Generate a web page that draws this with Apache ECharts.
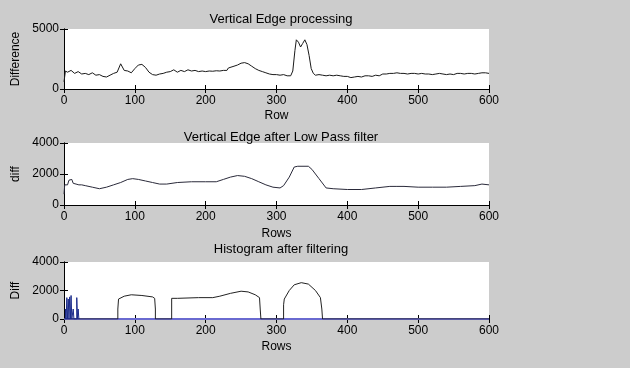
<!DOCTYPE html>
<html><head><meta charset="utf-8">
<script src="https://cdn.jsdelivr.net/npm/echarts@6/dist/echarts.min.js"></script>
<style>html,body{margin:0;padding:0;background:#cccccc}#c{width:630px;height:368px}</style>
</head><body><div id="c"></div>
<script>
// Panel 1: Vertical Edge processing
const rows1 = [0,2,5,10,15,20,25,30,35,40,45,50,55,60,65,70,75,80,85,90,95,100,105,110,115,120,125,130,135,140,145,150,155,160,165,170,175,180,185,190,195,200,205,210,215,220,225,230,232,240,245,250,255,260,265,270,275,280,285,290,295,300,305,310,315,320,323,326,328,331,334,337,340,343,346,349,352,355,360,365,370,375,380,385,390,395,400,405,410,415,420,425,430,435,440,445,450,455,460,465,470,475,480,485,490,495,500,505,510,515,520,525,530,535,540,545,550,555,560,565,570,575,580,585,590,595,600];
const diff1 = [600,1500,1400,1550,1300,1450,1250,1300,1200,1350,1150,1200,1050,1000,1150,1300,1400,2100,1550,1500,1350,1700,2000,2050,1800,1400,1200,1150,1250,1300,1400,1450,1600,1400,1550,1450,1600,1500,1550,1450,1500,1450,1500,1480,1520,1500,1550,1550,1750,1900,2000,2150,2200,2100,1900,1700,1550,1450,1350,1250,1200,1200,1150,1200,1100,1100,1500,3200,4100,3900,3500,3800,4100,3700,2800,1700,1300,1150,1200,1150,1100,1150,1100,1150,1100,1050,1050,950,1000,1050,1000,1100,1100,1050,1150,1100,1250,1250,1300,1300,1350,1300,1300,1250,1300,1300,1250,1300,1250,1250,1200,1250,1300,1250,1200,1250,1200,1300,1300,1250,1300,1300,1250,1300,1350,1350,1300];
// Panel 2: Vertical Edge after Low Pass filter
const rows2 = [0,1,3,5,7,9,11,13,15,17,19,21,25,30,40,50,60,70,80,90,97,105,115,125,135,145,160,180,200,215,225,235,245,255,265,275,285,295,305,310,318,325,330,345,350,360,370,380,400,420,440,460,470,480,500,520,540,560,580,590,600];
const diff2 = [700,1300,1400,1300,1600,1500,1650,1400,1450,1350,1450,1300,1300,1250,1150,1050,1150,1300,1450,1650,1700,1650,1550,1450,1350,1350,1450,1500,1500,1500,1650,1800,1900,1850,1700,1500,1300,1150,1100,1250,1800,2450,2500,2500,2300,1700,1100,1050,1000,1000,1100,1200,1200,1200,1150,1150,1150,1200,1250,1350,1300];
// Panel 3: Histogram after filtering
const rows3 = [0,76,76,77,85,95,110,125,128,129,129,152,152,160,190,210,220,235,250,260,270,276,277,278,310,310,311,318,325,335,345,355,362,364,365,600];
const diff3 = [0,0,700,1400,1600,1700,1650,1550,1450,700,0,0,1450,1450,1500,1500,1600,1800,1950,1900,1700,1500,700,0,0,1000,1400,2000,2400,2550,2450,2000,1500,700,0,0];
const spikeRows = [2,2,3,3,4,4,5,5,6,6,7,7,8,8,9,9,10,10,11,11,13,13,14,14,18,18,19,19,20,20,21,21];
const spikeVals = [0,700,700,0,0,1500,1500,0,0,1400,1400,0,0,1550,1550,0,0,1650,1650,0,0,700,700,0,0,1500,1500,0,0,700,700,0];

const pair = (xs, ys) => xs.map((x, i) => [x, ys[i]]);
const font = 'Liberation Sans, Arial, sans-serif';
const grids = [
  {left: 64, top: 29, width: 425, height: 60},
  {left: 64, top: 143, width: 425, height: 62},
  {left: 64, top: 262, width: 425, height: 57}
].map(g => Object.assign(g, {show: true, backgroundColor: '#ffffff', borderWidth: 0}));
const ax = {lineStyle: {color: '#000', width: 1}};
const tick = {show: true, inside: true, length: 4, lineStyle: {color: '#000'}};
const xAxes = [], yAxes = [];
const xNames = ['Row', 'Rows', 'Rows'];
const xGaps = [21, 23, 22];
const yNames = ['Difference', 'diff', 'Diff'];
const yMax = [5000, 4000, 4000];
const yInt = [5000, 2000, 2000];
for (let i = 0; i < 3; i++) {
  xAxes.push({type: 'value', gridIndex: i, min: 0, max: 600, interval: 100, position: 'bottom',
    axisLine: ax, axisTick: tick, splitLine: {show: false},
    axisLabel: {color: '#000', fontSize: 12, fontFamily: font, margin: 6},
    name: xNames[i], nameLocation: 'middle', nameGap: xGaps[i],
    nameTextStyle: {color: '#000', fontSize: 12, fontFamily: font}});
  xAxes.push({type: 'value', gridIndex: i, min: 0, max: 600, interval: 100, position: 'top',
    axisLine: ax, axisTick: tick, splitLine: {show: false}, axisLabel: {show: false}});
  yAxes.push({type: 'value', gridIndex: i, min: 0, max: yMax[i], interval: yInt[i], position: 'left',
    axisLine: {show: true, lineStyle: {color: '#000'}}, axisTick: tick, splitLine: {show: false},
    axisLabel: {color: '#000', fontSize: 12, fontFamily: font, margin: 5, formatter: v => String(v)},
    name: yNames[i], nameLocation: 'middle', nameGap: 37,
    nameTextStyle: {color: '#000', fontSize: 12, fontFamily: font}});
  yAxes.push({type: 'value', gridIndex: i, min: 0, max: yMax[i], interval: yInt[i], position: 'right',
    axisLine: {show: true, lineStyle: {color: '#000'}}, axisTick: tick, splitLine: {show: false}, axisLabel: {show: false}});
}
const ls = c => ({type: 'line', showSymbol: false, symbol: 'none', animation: false, lineStyle: {color: c, width: 1}, z: 3});
const chart = echarts.init(document.getElementById('c'), null, {renderer: 'canvas'});
chart.setOption({
  backgroundColor: '#cccccc',
  animation: false,
  title: [
    {text: 'Vertical Edge processing', left: 276, top: 8, textAlign: 'center'},
    {text: 'Vertical Edge after Low Pass filter', left: 276, top: 126, textAlign: 'center'},
    {text: 'Histogram after filtering', left: 276, top: 238, textAlign: 'center'}
  ].map(t => Object.assign(t, {textStyle: {color: '#000', fontSize: 13, fontWeight: 'normal', fontFamily: font}})),
  grid: grids,
  xAxis: xAxes,
  yAxis: yAxes,
  series: [
    Object.assign(ls('#1a1a1a'), {xAxisIndex: 0, yAxisIndex: 0, data: pair(rows1, diff1)}),
    Object.assign(ls('#2a2a3a'), {xAxisIndex: 2, yAxisIndex: 2, data: pair(rows2, diff2)}),
    Object.assign(ls('#6666cc'), {xAxisIndex: 4, yAxisIndex: 4, data: [[0, 0], [600, 0]], lineStyle: {color: '#6a6ad0', width: 2}}),
    Object.assign(ls('#222222'), {xAxisIndex: 4, yAxisIndex: 4, data: pair(rows3, diff3)}),
    Object.assign(ls('#1a2a8a'), {xAxisIndex: 4, yAxisIndex: 4, data: pair(spikeRows, spikeVals), lineStyle: {color: '#1a2a8a', width: 1}})
  ]
});
</script></body></html>
